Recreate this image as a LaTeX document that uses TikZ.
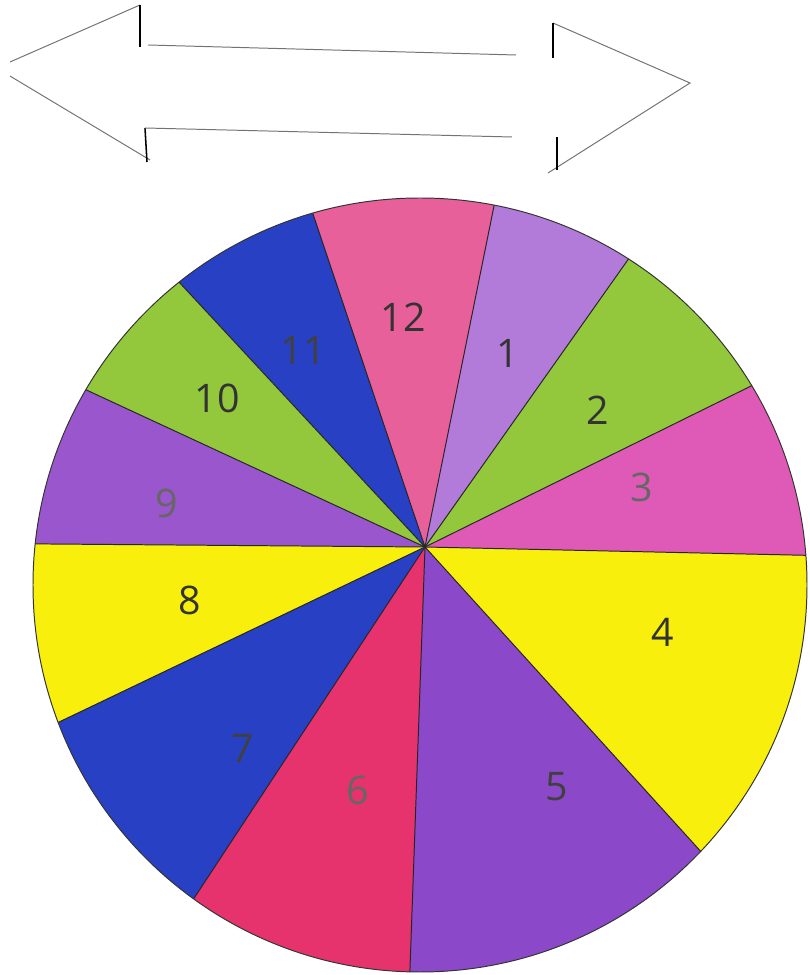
\documentclass[tikz,border=0pt]{standalone}
\usepackage{fontspec}
\setmainfont{Open Sans}
\definecolor{cyel}{HTML}{F8EF0C}
\definecolor{cgreen}{HTML}{93C83C}
\definecolor{cblue}{HTML}{2740C4}
\definecolor{cpink}{HTML}{E8609A}
\definecolor{cred}{HTML}{E6336E}
\definecolor{cmag}{HTML}{DE5AB6}
\definecolor{clav}{HTML}{B37BD9}
\definecolor{cpurp}{HTML}{9A56CC}
\definecolor{cviol}{HTML}{8B48C8}
\tikzset{
  spoke/.style={draw=black!85, line width=0.7pt},
  rim/.style={draw=black!80, line width=0.7pt},
  numlabel/.style={font=\fontsize{28}{28}\selectfont, text=black!80, inner sep=0pt},
  faint/.style={text=black!60},
  dark/.style={text=black!75},
  arrowthin/.style={draw=black!55, line width=0.7pt},
  arrowbar/.style={draw=black, line width=1.1pt},
}
\begin{document}
\begin{tikzpicture}[x=0.025cm,y=0.025cm]
\useasboundingbox (0,0) rectangle (810,975);
\coordinate (C) at (420,390);
\coordinate (H) at (425,428);
% sectors
\foreach \a/\b/\c in {-43.5/4.4/cyel, 4.4/31.0/cmag, 31.0/57.4/cgreen, 57.4/78.95/clav,
  78.95/106.1/cpink, 106.1/128.5/cblue, 128.5/149.7/cgreen, 149.7/173.9/cpurp,
  173.9/200.8/cyel, 200.8/234.2/cblue, 234.2/268.5/cred, 268.5/316.5/cviol} {
  \fill[\c] (H) -- ([shift={(\a:387)}]C) arc[start angle=\a, end angle=\b, radius=387] -- cycle;
}
% spokes
\foreach \a in {-43.5, 4.4, 31.0, 57.4, 78.95, 106.1, 128.5, 149.7, 173.9, 200.8, 234.2, 268.5} {
  \draw[spoke] (H) -- ([shift={(\a:387)}]C);
}
\draw[rim] (C) circle[radius=387];
% labels
\node[numlabel] (l12) at (403,658) {12};
\node[numlabel] (l1) at (508,622) {1};
\node[numlabel] (l2) at (598,565) {2};
\node[numlabel, faint] (l3) at (642,488) {3};
\node[numlabel] (l4) at (663,343) {4};
\node[numlabel, dark] (l5) at (557,188) {5};
\node[numlabel, faint] (l6) at (358,185) {6};
\node[numlabel, dark] (l7) at (243,227) {7};
\node[numlabel] (l8) at (190,375) {8};
\node[numlabel, faint] (l9) at (167,472) {9};
\node[numlabel] (l10) at (217,577) {10};
\node[numlabel, dark] (l11) at (303,625) {11};
% double arrow (outline)
\coordinate (ltip) at (10,913);
\coordinate (lup) at (140,970);
\coordinate (lupbar) at (140,928);
\coordinate (ldn) at (150,815);
\coordinate (ldnbar) at (145,847);
\coordinate (ldnend) at (147,813);
\coordinate (stl) at (148,930);
\coordinate (str) at (516,920);
\coordinate (sbl) at (145,847);
\coordinate (sbr) at (512,838);
\coordinate (rtip) at (690,892);
\coordinate (rup) at (553,952);
\coordinate (rupbar) at (553,917);
\coordinate (rdn) at (548,802);
\coordinate (rdnbar) at (557,838);
\coordinate (rdnend) at (557,805);
\draw[arrowthin] (ltip) -- (lup);
\draw[arrowthin] ([yshift=-10]ltip) -- (ldn);
\draw[arrowbar] (lup) -- (lupbar);
\draw[arrowbar] (ldnbar) -- (ldnend);
\draw[arrowthin] (stl) -- (str);
\draw[arrowthin] (sbl) -- (sbr);
\draw[arrowthin] (rup) -- (rtip) -- (rdn);
\draw[arrowbar] (rup) -- (rupbar);
\draw[arrowbar] (rdnbar) -- (rdnend);
\end{tikzpicture}
\end{document}
